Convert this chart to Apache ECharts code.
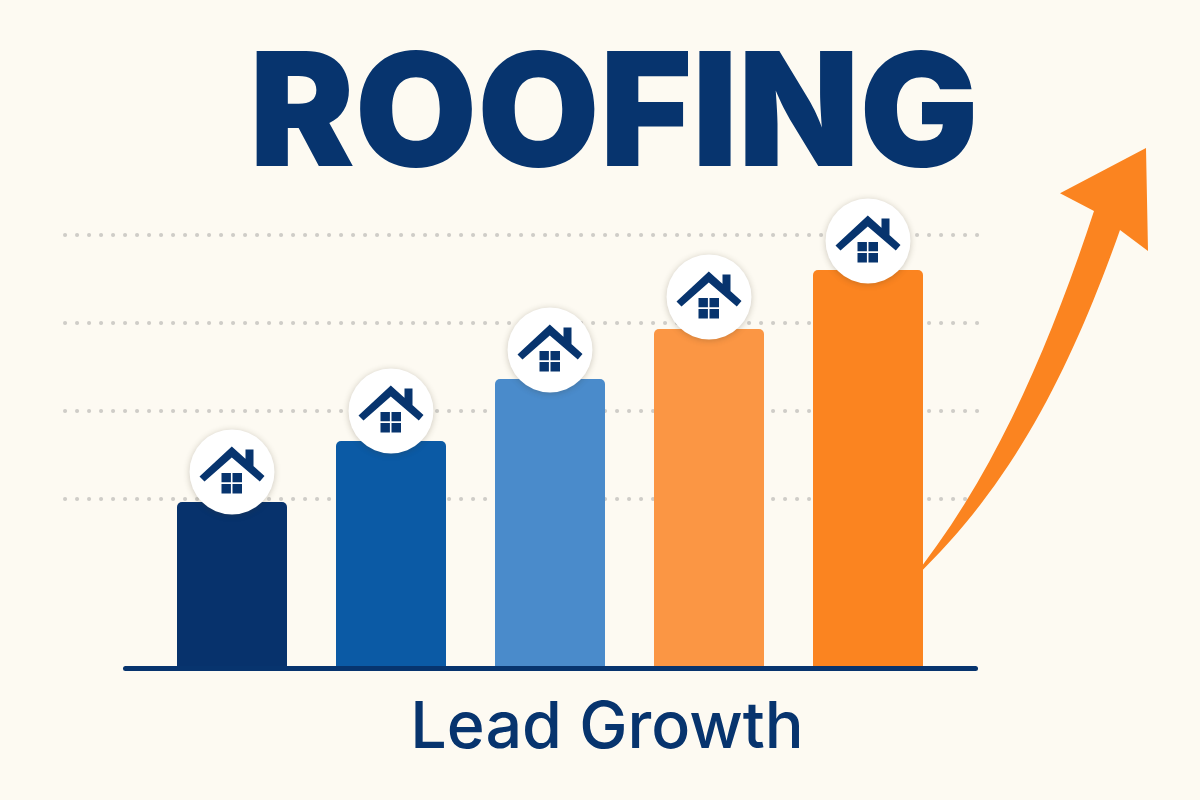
<!DOCTYPE html>
<html lang="en">
<head>
    <meta charset="UTF-8">
    <title>Roofing Lead Growth</title>
    <script src="https://cdn.jsdelivr.net/npm/echarts@6/dist/echarts.min.js"></script>
    <style>
        html, body { margin: 0; padding: 0; background: #fdfaf2; }
        #main { width: 1200px; height: 800px; }
    </style>
</head>
<body>
<div id="main"></div>
<script type="text/javascript">
    // values, in pixels above the baseline
    var categories = ['1', '2', '3', '4', '5'];
    var barValues = [164, 225, 287, 337, 396];
    var badgeValues = [194, 255, 316, 369, 425];
    var barColors = ['#07326c', '#0b5aa5', '#4a8bcb', '#fb9644', '#fb8420'];
    var gridLevels = [0, 1, 2, 3, 4];

    var navy = '#07346e';
    var housePath = 'path://M32.3 0L65 29.5L60.3 35L32.3 11L5 35L0 30Z' +
        'M46 3L54 3L54 22L46 15Z' +
        'M22 26.5L31.4 26.5L31.4 35.8L22 35.8Z' +
        'M33 26.5L42.5 26.5L42.5 35.8L33 35.8Z' +
        'M22 37.6L31.4 37.6L31.4 47L22 47Z' +
        'M33 37.6L42.5 37.6L42.5 47L33 47Z';

    // the growth arrow next to the bars
    echarts.graphic.registerShape('leadArrow', echarts.graphic.extendPath(
        'M922.7 565C1001.5 461.6 1053.2 334.4 1094 211L1060 193.3L1146 148L1148 251L1120 230' +
        'C1075 357 1019 475.5 922.7 570Z'
    ));

    var myChart = echarts.init(document.getElementById('main'));
    var option = {
        backgroundColor: '#fdfaf2',
        animation: false,
        title: [
            {
                text: 'ROOFING', left: 609, top: 23.5, textAlign: 'center',
                textStyle: { color: navy, fontFamily: 'Inter', fontWeight: 900, fontSize: 158, lineHeight: 180 }
            },
            {
                text: 'Lead Growth', left: 602, top: 687.5, textAlign: 'center',
                textStyle: { color: navy, fontFamily: 'Inter', fontWeight: 500, fontSize: 64.6, lineHeight: 72 }
            }
        ],
        grid: [
            { left: 152.5, width: 795, top: 166, height: 500 },
            { left: 65, width: 915, top: 235, height: 352 },
            { left: 125.5, width: 850, top: 600, height: 68 }
        ],
        xAxis: [
            { gridIndex: 0, type: 'category', data: categories, axisLine: { show: false }, axisTick: { show: false }, axisLabel: { show: false } },
            { gridIndex: 1, type: 'value', min: 0, max: 1, show: false },
            {
                gridIndex: 2, type: 'value', min: 0, max: 1, splitLine: { show: false },
                axisLine: { show: true, lineStyle: { color: navy, width: 5, cap: 'round' } },
                axisTick: { show: false }, axisLabel: { show: false }
            }
        ],
        yAxis: [
            { gridIndex: 0, type: 'value', min: 0, max: 500, show: false },
            {
                gridIndex: 1, type: 'value', min: gridLevels[0], max: gridLevels[4], interval: 1,
                axisLine: { show: false }, axisTick: { show: false }, axisLabel: { show: false },
                splitLine: { show: true, showMinLine: false, lineStyle: { color: '#cfcdc8', width: 4, cap: 'round', type: [0.1, 11.9] } }
            },
            { gridIndex: 2, type: 'value', min: 0, max: 1, show: false }
        ],
        series: [
            {
                type: 'bar', xAxisIndex: 0, yAxisIndex: 0, barWidth: 110, z: 3,
                data: barValues.map(function (v, i) {
                    return { value: v, itemStyle: { color: barColors[i], borderRadius: [5, 5, 0, 0] } };
                })
            },
            {
                type: 'scatter', xAxisIndex: 0, yAxisIndex: 0, symbol: 'circle', symbolSize: 85, z: 4, clip: false,
                itemStyle: { color: '#ffffff', opacity: 1, shadowBlur: 6, shadowOffsetY: 1, shadowColor: 'rgba(60,50,30,0.25)' },
                data: badgeValues
            },
            {
                type: 'scatter', xAxisIndex: 0, yAxisIndex: 0, symbol: housePath, symbolSize: [65, 47], symbolOffset: [0, -2], z: 5, clip: false,
                itemStyle: { color: navy, opacity: 1 },
                data: badgeValues
            }
        ],
        graphic: [
            { type: 'leadArrow', z: 2, style: { fill: '#fb8420' } }
        ]
    };
    myChart.setOption(option);
</script>
</body>
</html>
